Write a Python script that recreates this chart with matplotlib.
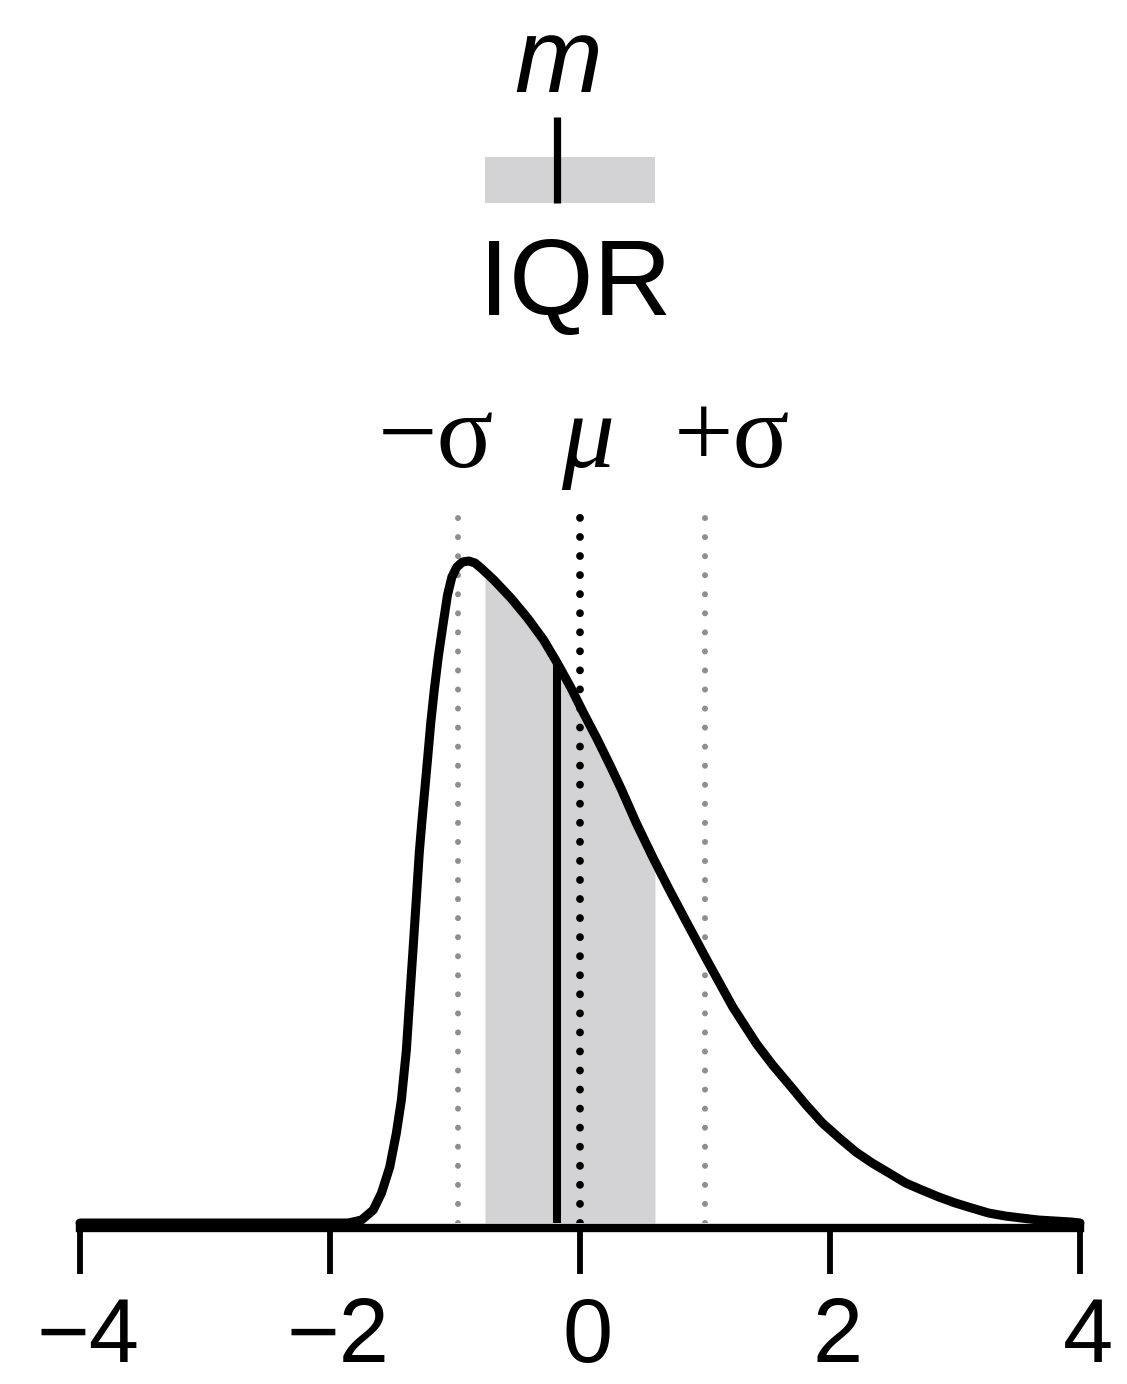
import numpy as np
import matplotlib
matplotlib.use("Agg")
import matplotlib.pyplot as plt
from matplotlib.transforms import ScaledTranslation

# ---- data ----
curve_x = [-4.0, -2.0, -1.853, -1.748, -1.654, -1.588, -1.522, -1.469, -1.429, -1.389,
           -1.363, -1.336, -1.310, -1.286, -1.266, -1.242, -1.218, -1.194, -1.166,
           -1.134, -1.094, -1.060, -1.025, -0.985, -0.940, -0.890, -0.840, -0.792,
           -0.689, -0.553, -0.420, -0.291, -0.182, -0.076, 0.028, 0.137, 0.243, 0.330,
           0.450, 0.585, 0.720, 0.856, 1.015, 1.222, 1.413, 1.541, 1.676, 1.809, 1.939,
           2.074, 2.207, 2.337, 2.472, 2.605, 2.735, 2.870, 3.003, 3.133, 3.268, 3.401,
           3.531, 3.666, 3.929, 4.0]
curve_y = [0.0, 0.0, 0.0, 0.003, 0.013, 0.030, 0.056, 0.090, 0.123, 0.173,
           0.223, 0.273, 0.323, 0.370, 0.400, 0.433, 0.466, 0.500, 0.533,
           0.566, 0.600, 0.628, 0.646, 0.656, 0.661, 0.662, 0.660, 0.655,
           0.643, 0.625, 0.605, 0.583, 0.560, 0.536, 0.510, 0.484, 0.457, 0.434,
           0.400, 0.365, 0.332, 0.300, 0.263, 0.216, 0.179, 0.158, 0.138, 0.118, 0.100,
           0.085, 0.071, 0.060, 0.050, 0.040, 0.033, 0.026, 0.020, 0.015, 0.010, 0.007,
           0.005, 0.003, 0.001, 0.0]
mean_val = 0.0
sigma_lo = -0.98
sigma_hi = 1.0
median_val = -0.182
q1, q3 = -0.76, 0.60
xticks = [-4, -2, 0, 2, 4]
xtick_labels = ["\u22124", "\u22122", "0", "2", "4"]
sigma_labels = ["\u2212\u03c3", "\u03bc", "+\u03c3"]
sigma_label_x = [-1.150, 0.064, 1.218]
sigma_label_style = ["normal", "italic", "normal"]

gray_fill = "#d3d3d5"

fig = plt.figure(figsize=(11.27, 13.84), dpi=100)
base_px = 1223
ax = fig.add_axes([80 / 1127, (1384 - base_px) / 1384, 1000 / 1127, base_px / 1384])
ax.set_xlim(-4, 4)
ax.set_ylim(0, base_px / 1000)

cx = np.array(curve_x)
cy = np.array(curve_y)

# IQR shading under the curve
inside = (cx > q1) & (cx < q3)
fx = np.concatenate([[q1], cx[inside], [q3]])
fy = np.interp(fx, cx, cy)
ax.fill_between(fx, 0, fy, color=gray_fill, lw=0, zorder=1)

# sigma dotted lines (gray) and mean dotted line (black)
top_dot = 0.706
for xv in [sigma_lo, sigma_hi]:
    ax.plot([xv, xv], [0, top_dot], color="#8e8e8e", lw=4.3,
            linestyle=(0, (0.01, 3.18)), dash_capstyle="round", zorder=2)
ax.plot([mean_val, mean_val], [0, top_dot], color="black", lw=5.6,
        linestyle=(0, (0.01, 2.44)), dash_capstyle="round", zorder=3)

# median line
ax.plot([median_val, median_val], [0, np.interp(median_val, cx, cy)],
        color="black", lw=5.8, solid_capstyle="butt", zorder=4)

# density curve
ax.plot(cx, cy, color="black", lw=6.5, solid_joinstyle="round",
        solid_capstyle="round", zorder=5, clip_on=False)

# labels above the curve
for lab, lx, st in zip(sigma_labels, sigma_label_x, sigma_label_style):
    ax.text(lx, 0.756, lab, ha="center", va="baseline", fontsize=76, style=st,
            family=["Liberation Serif", "DejaVu Serif"], color="black")

# top summary: IQR box and median tick
ax.fill_between([q1, q3], 1.020, 1.066, color=gray_fill, lw=0, zorder=1)
ax.plot([median_val, median_val], [1.020, 1.106], color="black", lw=5.2,
        solid_capstyle="butt", zorder=2)
ax.text(-0.175, 1.131, "m", ha="center", va="baseline", fontsize=76,
        style="italic", family=["Liberation Sans", "DejaVu Sans"])
ax.text(-0.036, 0.908, "IQR", ha="center", va="baseline", fontsize=78,
        family=["Liberation Sans", "DejaVu Sans"])

# axes styling
for s in ["top", "right", "left"]:
    ax.spines[s].set_visible(False)
ax.spines["bottom"].set_linewidth(6.0)
ax.spines["bottom"].set_capstyle("projecting")
ax.spines["bottom"].set_bounds(-4, 4)
ax.spines["bottom"].set_position(("outward", 3.5))
ax.set_yticks([])
ax.set_xticks(xticks)
ax.set_xticklabels(xtick_labels, family=["Liberation Sans Narrow", "Liberation Sans"],
                   fontsize=65)
ax.tick_params(axis="x", direction="out", length=33, width=4.2, pad=16)
offset = ScaledTranslation(8 / 100, 0, fig.dpi_scale_trans)
for lbl in ax.get_xticklabels():
    lbl.set_transform(lbl.get_transform() + offset)
ax.patch.set_alpha(0)

fig.savefig("out.png", dpi=100)
